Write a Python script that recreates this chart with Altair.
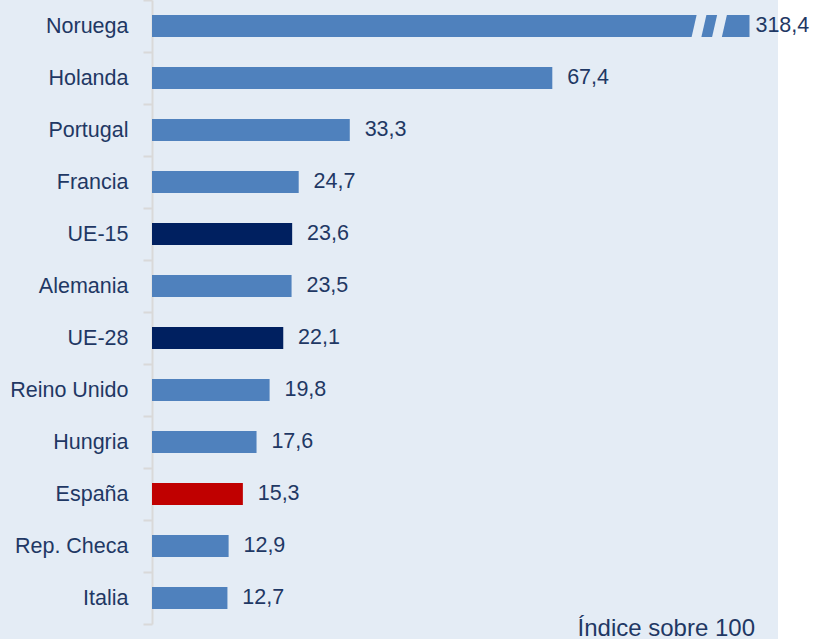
import altair as alt
import pandas as pd

countries = ["Noruega", "Holanda", "Portugal", "Francia", "UE-15", "Alemania",
             "UE-28", "Reino Unido", "Hungria", "España", "Rep. Checa", "Italia"]
values = [318.4, 67.4, 33.3, 24.7, 23.6, 23.5, 22.1, 19.8, 17.6, 15.3, 12.9, 12.7]
groups = ["país", "país", "país", "país", "UE", "país",
          "UE", "país", "país", "España", "país", "país"]

group_names = ["país", "UE", "España"]
group_colors = ["#4f81bd", "#002060", "#c00000"]

X_MAX = 105.4      # visible end of the value axis
CAP = 100.6        # where the broken Noruega bar is cut
BG = "#e4ecf5"
TXT = "#1f3864"
FONT = "Liberation Sans"
W, H = 626, 624

df = pd.DataFrame({"country": countries, "value": values, "group": groups})

# break marks on the truncated bar (relative to the cap)
breaks = pd.DataFrame({
    "country": ["Noruega", "Noruega"],
    "top": [CAP - 7.9, CAP - 4.45],
    "bottom": [CAP - 9.1, CAP - 5.65],
})

note = pd.DataFrame({"text": ["Índice sobre 100"]})

y_enc = alt.Y("country:N", sort=countries, title=None,
              scale=alt.Scale(paddingInner=0, paddingOuter=0),
              axis=alt.Axis(domainColor="#d9d9d9", domainWidth=2,
                            tickColor="#d9d9d9", tickWidth=2, tickSize=9,
                            tickBand="extent", labelPadding=15,
                            labelFontSize=21.5, labelFont=FONT, labelColor=TXT))
x_scale = alt.Scale(domain=[0, X_MAX], nice=False, zero=True)

base = alt.Chart(df).transform_calculate(
    bar_end=f"min(datum.value, {CAP})",
    label_x=f"min(datum.value, {CAP}) + (datum.value > {CAP} ? 1 : 2.5)",
    label=f"replace(format(datum.value, '.1f'), '.', ',')",
)

bars = base.mark_bar(size=22).encode(
    y=y_enc,
    x=alt.X("bar_end:Q", scale=x_scale, axis=None),
    color=alt.Color("group:N", scale=alt.Scale(domain=group_names, range=group_colors), legend=None),
)

cuts = alt.Chart(breaks).mark_rule(color=BG, strokeWidth=9.5).encode(
    y=alt.Y("country:N", sort=countries, bandPosition=0.2),
    y2=alt.Y2("country:N", bandPosition=0.8),
    x=alt.X("top:Q", scale=x_scale),
    x2="bottom:Q",
)

strip = alt.Chart(df).mark_rect(color="white").encode(
    x=alt.value(W), x2=alt.value(W + 60), y=alt.value(0), y2=alt.value(H + 20)
)

labels = base.mark_text(align="left", baseline="middle", fontSize=21.5, font=FONT, color=TXT).encode(
    y=alt.Y("country:N", sort=countries),
    x=alt.X("label_x:Q", scale=x_scale),
    text="label:N",
)

note_text = alt.Chart(note).mark_text(align="right", baseline="alphabetic", fontSize=24,
                                      font=FONT, color=TXT).encode(
    x=alt.value(W - 23), y=alt.value(H + 12), text="text:N"
)

chart = alt.layer(bars, cuts, strip, labels, note_text).properties(
    width=W, height=H,
    autosize=alt.AutoSizeParams(type="none"),
    padding={"left": 152, "right": 39, "top": 0, "bottom": 15},
    background=BG,
).configure_view(stroke=None, fill=BG)

chart.save("out.html", embed_options={"renderer": "svg", "actions": False})
